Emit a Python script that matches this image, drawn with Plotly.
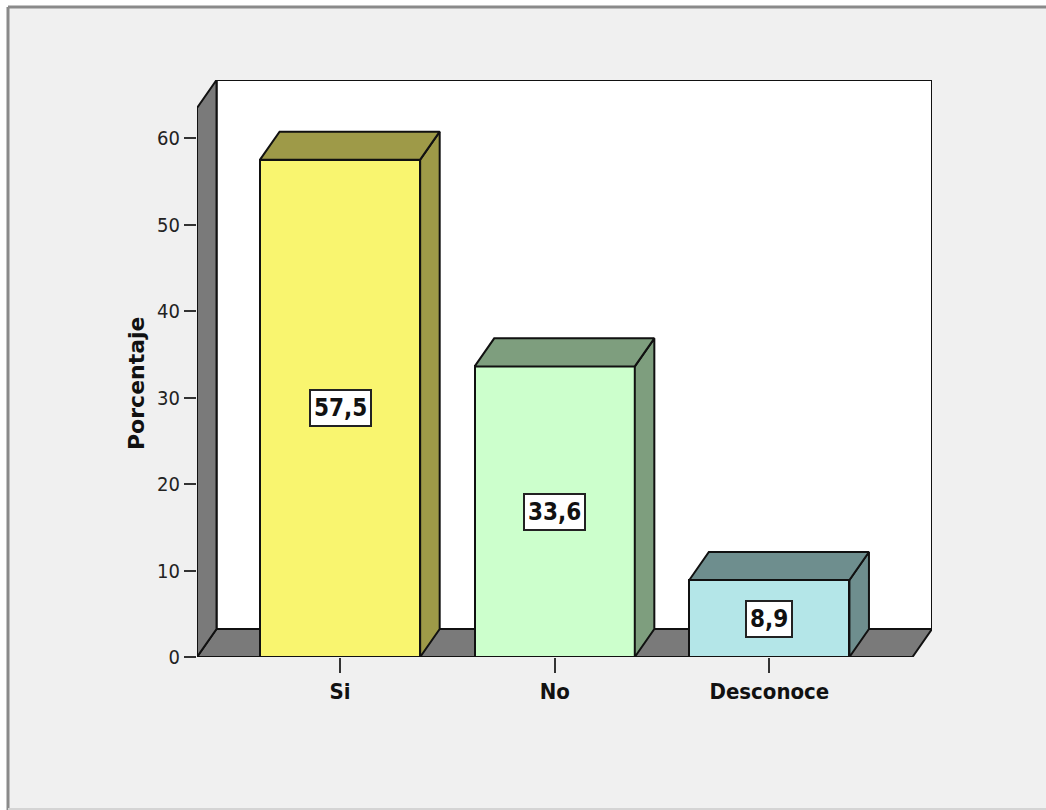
import plotly.graph_objects as go

# Survey answers and their percentages
categories = ["Si", "No", "Desconoce"]
percentages = [57.5, 33.6, 8.9]
value_labels = ["57,5", "33,6", "8,9"]
y_ticks = [0, 10, 20, 30, 40, 50, 60]

# Face colours of each box: front face, top/side face
front_colors = ["#f9f56f", "#ccffcc", "#b4e6e8"]
shade_colors = ["#9e9a48", "#7e9e7e", "#6e8e8e"]

NARROW = "Liberation Sans Narrow, Arial Narrow, DejaVu Sans Condensed, sans-serif"

# Pseudo-3D geometry in data units
x_pos = list(range(len(categories)))
bar_w = 0.746
depth_x = 0.091
depth_y = 3.24
x_lo, x_hi = -0.6667, 2.6667
wall_top = 63.47

fig = go.Figure()

# Front faces of the bars
fig.add_trace(go.Bar(
    x=x_pos, y=percentages, width=bar_w,
    marker=dict(color=front_colors, line=dict(color="#111111", width=2)),
    hoverinfo="skip", showlegend=False,
))

# Top and right-hand faces of each bar
for xc, v, sc in zip(x_pos, percentages, shade_colors):
    x0, x1 = xc - bar_w / 2, xc + bar_w / 2
    top_x = [x0, x1, x1 + depth_x, x0 + depth_x, x0]
    top_y = [v, v, v + depth_y, v + depth_y, v]
    side_x = [x1, x1 + depth_x, x1 + depth_x, x1, x1]
    side_y = [0, depth_y, v + depth_y, v, 0]
    for px, py in ((side_x, side_y), (top_x, top_y)):
        fig.add_trace(go.Scatter(
            x=px, y=py, mode="lines", fill="toself", fillcolor=sc,
            line=dict(color="#111111", width=2), hoverinfo="skip", showlegend=False,
        ))

# Value labels in boxed annotations at mid-height of each bar
for xc, v, lab in zip(x_pos, percentages, value_labels):
    fig.add_annotation(
        x=xc, y=v / 2, xref="x", yref="y", text=f"<b>{lab}</b>", showarrow=False,
        xanchor="center", yanchor="middle",
        font=dict(family=NARROW, size=24, color="#111111"),
        bgcolor="white", bordercolor="#222222", borderwidth=2, borderpad=3,
    )

# Pixel positions of the outer frame, expressed in paper units
def px_x(p):
    return (p - 197) / 735


def px_y(p):
    return (657 - p) / 577


frame_line = dict(color="#8a8a8a", width=3)

# Chart walls: floor, back wall and left wall
wall_line = dict(color="#111111", width=2)
shapes = [
    # outer frame of the chart area (open towards the right)
    dict(type="rect", xref="paper", yref="paper",
         x0=px_x(8), x1=px_x(1120), y0=px_y(880), y1=px_y(7),
         fillcolor="#f0f0f0", line=dict(width=0), layer="below"),
    dict(type="line", xref="paper", yref="paper",
         x0=px_x(8), x1=px_x(1120), y0=px_y(7), y1=px_y(7),
         line=frame_line, layer="below"),
    dict(type="line", xref="paper", yref="paper",
         x0=px_x(8), x1=px_x(8), y0=px_y(880), y1=px_y(7),
         line=frame_line, layer="below"),
    dict(type="line", xref="paper", yref="paper",
         x0=px_x(8), x1=px_x(1120), y0=px_y(809), y1=px_y(809),
         line=dict(color="#d4d4d4", width=2), layer="below"),
    dict(type="path", xref="x", yref="y", layer="below",
         path=f"M {x_lo + depth_x},{depth_y} L {x_hi + depth_x},{depth_y} "
              f"L {x_hi + depth_x},{wall_top + depth_y} L {x_lo + depth_x},{wall_top + depth_y} Z",
         fillcolor="white", line=wall_line),
    dict(type="path", xref="x", yref="y", layer="below",
         path=f"M {x_lo},0 L {x_hi},0 L {x_hi + depth_x},{depth_y} L {x_lo + depth_x},{depth_y} Z",
         fillcolor="#7a7a7a", line=wall_line),
    dict(type="path", xref="x", yref="y", layer="below",
         path=f"M {x_lo},0 L {x_lo},{wall_top} L {x_lo + depth_x},{wall_top + depth_y} "
              f"L {x_lo + depth_x},{depth_y} Z",
         fillcolor="#7a7a7a", line=wall_line),
]

# Axis title
fig.add_annotation(
    x=px_x(136), y=px_y(383), xref="paper", yref="paper",
    xanchor="center", yanchor="middle",
    text="<b>Porcentaje</b>", textangle=-90, showarrow=False,
    font=dict(family="DejaVu Sans", size=22, color="#111111"),
)

fig.update_layout(
    width=1046, height=810,
    margin=dict(l=197, r=114, t=80, b=153, pad=0),
    paper_bgcolor="white", plot_bgcolor="rgba(0,0,0,0)",
    shapes=shapes, showlegend=False, bargap=0,
    xaxis=dict(
        range=[x_lo, x_hi + depth_x], tickvals=x_pos, ticktext=[f"<b>{c}</b>" for c in categories],
        showgrid=False, zeroline=False, showline=False,
        ticks="outside", ticklen=15, tickwidth=2, tickcolor="#333333",
        tickfont=dict(family=NARROW, size=22, color="#111111"),
    ),
    yaxis=dict(
        range=[0, wall_top + depth_y], tickvals=y_ticks,
        showgrid=False, zeroline=False, showline=False,
        ticks="outside", ticklen=12, tickwidth=2, tickcolor="#333333",
        tickfont=dict(family=NARROW, size=20, color="#222222"),
    ),
)

fig.write_html("out.html")
